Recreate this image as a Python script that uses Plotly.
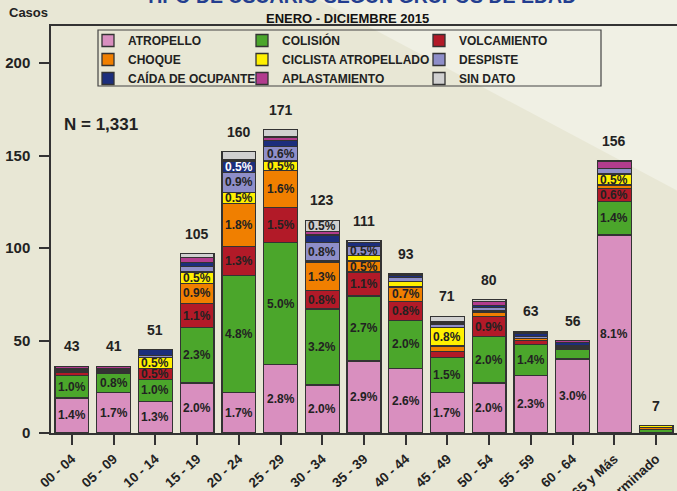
import numpy as np
import plotly.graph_objects as go

categories = ["00 - 04", "05 - 09", "10 - 14", "15 - 19", "20 - 24", "25 - 29", "30 - 34",
              "35 - 39", "40 - 44", "45 - 49", "50 - 54", "55 - 59", "60 - 64", "65 y Más",
              "Indeterminado"]

atropello     = [19, 22, 17, 27, 22, 37, 26, 39, 35, 22, 27, 31, 40, 107, 0]
colision      = [12, 10, 12, 30, 63, 66, 41, 35, 26, 19, 25, 17, 5, 18, 2]
volcamiento   = [2, 1, 6, 13, 16, 19, 10, 13, 10, 3, 11, 2, 1, 7, 0]
choque        = [1, 1, 0, 11, 23, 20, 15, 6, 8, 3, 2, 1, 1, 2, 1]
ciclista      = [0, 0, 6, 6, 6, 5, 1, 3, 3, 10, 1, 0, 0, 6, 1]
despiste      = [0, 0, 1, 3, 11, 8, 10, 5, 2, 2, 2, 1, 0, 3, 0]
caida         = [1, 1, 3, 2, 6, 3, 4, 2, 1, 1, 1, 2, 2, 0, 0]
aplastamiento = [1, 1, 0, 3, 1, 2, 2, 0, 1, 0, 2, 0, 1, 4, 0]
sin_dato      = [0, 0, 0, 2, 4, 4, 6, 1, 0, 3, 1, 1, 0, 0, 0]

pct_atropello = ["1.4%", "1.7%", "1.3%", "2.0%", "1.7%", "2.8%", "2.0%", "2.9%", "2.6%", "1.7%",
                 "2.0%", "2.3%", "3.0%", "8.1%", ""]
pct_colision = ["1.0%", "0.8%", "1.0%", "2.3%", "4.8%", "5.0%", "3.2%", "2.7%", "2.0%", "1.5%",
                "2.0%", "1.4%", "", "1.4%", ""]
pct_volcamiento = ["", "", "0.5%", "1.1%", "1.3%", "1.5%", "0.8%", "1.1%", "0.8%", "", "0.9%",
                   "", "", "0.6%", ""]
pct_choque = ["", "", "", "0.9%", "1.8%", "1.6%", "1.3%", "0.5%", "0.7%", "", "", "", "", "", ""]
pct_ciclista = ["", "", "0.5%", "0.5%", "0.5%", "0.5%", "", "", "", "0.8%", "", "", "", "0.5%", ""]
pct_despiste = ["", "", "", "", "0.9%", "0.6%", "0.8%", "0.5%", "", "", "", "", "", "", ""]
pct_caida = ["", "", "", "", "0.5%", "", "", "", "", "", "", "", "", "", ""]
pct_aplastamiento = [""] * 15
pct_sin_dato = ["", "", "", "", "", "", "0.5%", "", "", "", "", "", "", "", ""]

total_labels = [43, 41, 51, 105, 160, 171, 123, 111, 93, 71, 80, 63, 56, 156, 7]

series = [
    ("ATROPELLO", atropello, "#D98FBF", pct_atropello, "#222222", "legend"),
    ("COLISIÓN", colision, "#4BA62B", pct_colision, "#222222", "legend2"),
    ("VOLCAMIENTO", volcamiento, "#B21A28", pct_volcamiento, "#222222", "legend3"),
    ("CHOQUE", choque, "#F07F00", pct_choque, "#222222", "legend"),
    ("CICLISTA ATROPELLADO", ciclista, "#FFF000", pct_ciclista, "#222222", "legend2"),
    ("DESPISTE", despiste, "#8E8EC9", pct_despiste, "#222222", "legend3"),
    ("CAÍDA DE OCUPANTE", caida, "#1C2E7C", pct_caida, "#FFFFFF", "legend"),
    ("APLASTAMIENTO", aplastamiento, "#B23C8E", pct_aplastamiento, "#222222", "legend2"),
    ("SIN DATO", sin_dato, "#D0D0D0", pct_sin_dato, "#222222", "legend3"),
]

FONT = "Liberation Sans, Arial, sans-serif"

fig = go.Figure()
annotations = []
base = np.zeros(len(categories))
for name, vals, color, pcts, tcol, lg in series:
    vals = np.array(vals, dtype=float)
    fig.add_trace(go.Bar(
        x=categories, y=vals, name=name, legend=lg,
        marker=dict(color=color, line=dict(color="#333333", width=1.3)),
        width=0.81, hoverinfo="skip"))
    for i, t in enumerate(pcts):
        if t:
            annotations.append(dict(
                x=categories[i], y=base[i] + vals[i] / 2, xref="x", yref="y",
                text=t, showarrow=False, xanchor="center", yanchor="middle",
                font=dict(family=FONT, size=12, color=tcol, weight="bold")))
    base += vals

for i, lab in enumerate(total_labels):
    annotations.append(dict(
        x=categories[i], y=base[i], xref="x", yref="y", text=str(lab),
        showarrow=False, xanchor="center", yanchor="middle", yshift=20,
        font=dict(family=FONT, size=14, color="#222222", weight="bold")))

# plot area in pixels: x 51..677, y 26..433
def px(xp):
    return (xp - 51) / 626.0

def py(yp):
    return (433 - yp) / 407.0

annotations += [
    dict(x=px(360), y=py(-5), xref="paper", yref="paper", text="TIPO DE USUARIO SEGÚN GRUPOS DE EDAD",
         showarrow=False, xanchor="center", yanchor="middle",
         font=dict(family=FONT, size=19.5, color="#233E8F", weight="bold")),
    dict(x=px(347), y=py(19), xref="paper", yref="paper", text="ENERO - DICIEMBRE 2015",
         showarrow=False, xanchor="center", yanchor="middle",
         font=dict(family=FONT, size=13, color="#111111", weight="bold")),
    dict(x=px(28), y=py(13), xref="paper", yref="paper", text="Casos",
         showarrow=False, xanchor="center", yanchor="middle",
         font=dict(family=FONT, size=13, color="#222222", weight="bold")),
    dict(x=px(62), y=py(125), xref="paper", yref="paper", text="N = 1,331",
         showarrow=False, xanchor="left", yanchor="middle",
         font=dict(family=FONT, size=17, color="#222222", weight="bold")),
]

shapes = [
    dict(type="path", xref="paper", yref="paper",
         path=f"M {px(315)} {py(-2)} L {px(680)} {py(-2)} L {px(680)} {py(192)} Z",
         fillcolor="#F0F0E4", line=dict(width=0), layer="below"),
    dict(type="rect", xref="paper", yref="paper",
         x0=px(98), x1=px(601), y0=py(30), y1=py(86),
         line=dict(color="#444444", width=1.2), fillcolor="rgba(0,0,0,0)", layer="above"),
]

legend_common = dict(orientation="v", xanchor="left", yanchor="top",
                     bgcolor="rgba(0,0,0,0)", borderwidth=0,
                     font=dict(family=FONT, size=12, color="#222222", weight="bold"),
                     traceorder="normal", itemclick=False, itemdoubleclick=False)

fig.update_layout(
    width=677, height=491,
    margin=dict(l=51, r=0, t=26, b=58),
    paper_bgcolor="#E8E7D5",
    plot_bgcolor="rgba(0,0,0,0)",
    barmode="stack",
    bargap=0.19,
    showlegend=True,
    legend=dict(x=px(88), y=py(26), **legend_common),
    legend2=dict(x=px(242), y=py(26), **legend_common),
    legend3=dict(x=px(419), y=py(26), **legend_common),
    annotations=annotations,
    shapes=shapes,
    xaxis=dict(range=[-0.5, 14.5], showline=True, linecolor="#333333", linewidth=1.5,
               mirror=True, ticks="outside", ticklen=10, tickwidth=1.5, tickcolor="#333333",
               tickangle=-42, showgrid=False, zeroline=False, automargin=False,
               ticklabelstandoff=1,
               tickfont=dict(family=FONT, size=13.5, color="#222222", weight="bold")),
    yaxis=dict(range=[0, 220], tickvals=[0, 50, 100, 150, 200], showline=True,
               linecolor="#333333", linewidth=1.5, ticks="outside", ticklen=10, tickwidth=1.5,
               tickcolor="#333333", showgrid=False, zeroline=False, automargin=False,
               ticklabelstandoff=6,
               tickfont=dict(family=FONT, size=15, color="#222222", weight="bold")),
)

fig.write_html("out.html", config={"displayModeBar": False},
               post_script="document.body.style.margin='0';document.body.style.overflow='hidden';")
